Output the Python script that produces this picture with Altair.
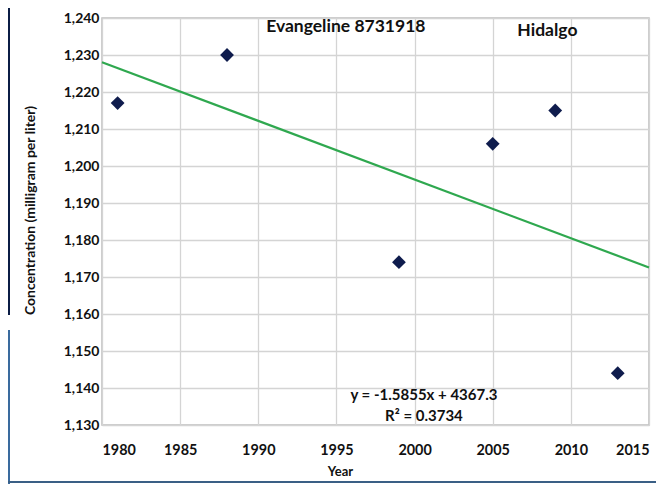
import altair as alt
import pandas as pd

years = [1981, 1988, 1999, 2005, 2009, 2013]
conc = [1217, 1230, 1174, 1206, 1215, 1144]

x_ticks = [1980, 1985, 1990, 1995, 2000, 2005, 2010, 2015]
y_ticks = [1130, 1140, 1150, 1160, 1170, 1180, 1190, 1200, 1210, 1220, 1230, 1240]

ann_text = ["Evangeline 8731918", "Hidalgo"]
ann_year = [1995.6, 2008.5]
ann_conc = [1237.7, 1236.6]

eq_text = ["y = -1.5855x + 4367.3", "R² = 0.3734"]
eq_year = [2000.6, 2000.6]
eq_conc = [1138.2, 1132.3]

df = pd.DataFrame({"year": years, "conc": conc})
ann = pd.DataFrame({"t": ann_text, "year": ann_year, "conc": ann_conc})
eq = pd.DataFrame({"t": eq_text, "year": eq_year, "conc": eq_conc})

FONT = "Lato"

xs = alt.Scale(domain=[1980, 2015], nice=False, zero=False)
ys = alt.Scale(domain=[1130, 1240], nice=False, zero=False)

x_axis = alt.Axis(values=x_ticks, format="d", grid=True, ticks=False, domain=False,
                  labelPadding=18, labelFontSize=14.4, labelFontWeight="bold",
                  labelFont=FONT, labelColor="#111", labelOverlap=False,
                  titleFont=FONT, titleFontSize=13, titleFontWeight="bold",
                  titleColor="#111", titlePadding=9, titleX=238,
                  gridColor="#d4d4d4", gridWidth=1.3)
y_axis = alt.Axis(values=y_ticks, format=",.0f", grid=True, ticks=False, domain=False,
                  labelPadding=3, labelFontSize=14, labelFontWeight="bold",
                  labelFont=FONT, labelColor="#111", labelOverlap=False,
                  titleFont=FONT, titleFontSize=14, titleFontWeight="bold",
                  titleColor="#111", titlePadding=26, titleY=192,
                  gridColor="#d4d4d4", gridWidth=1.3)

def X():
    return alt.X("year:Q", scale=xs, title="Year", axis=x_axis)

def Y():
    return alt.Y("conc:Q", scale=ys, title="Concentration (milligram per liter)", axis=y_axis)

points = alt.Chart(df).mark_point(shape="diamond", filled=True, size=190, color="#0f1c4d", opacity=1).encode(
    x=X(), y=Y())

trend = alt.Chart(df).transform_regression("year", "conc", extent=[1980, 2015]).mark_line(
    color="#2fa84f", strokeWidth=2.2).encode(x=X(), y=Y())

annotations = alt.Chart(ann).mark_text(font=FONT, fontWeight="bold", fontSize=17.5, color="#111").encode(
    x=X(), y=Y(), text="t:N")

eqs = alt.Chart(eq).mark_text(font=FONT, fontWeight="bold", fontSize=15, color="#111").encode(
    x=X(), y=Y(), text="t:N")

one = pd.DataFrame({"a": [0]})
navy = alt.Chart(one).mark_rect(color="#0b1d45").encode(
    x=alt.value(-94), x2=alt.value(-92), y=alt.value(-10), y2=alt.value(297))
blue = alt.Chart(one).mark_rect(color="#3a6b9e").encode(
    x=alt.value(-94), x2=alt.value(-92), y=alt.value(312), y2=alt.value(470))
bottom_line = alt.Chart(one).mark_rule(color="#3a5f85", strokeWidth=2).encode(
    x=alt.value(-94), x2=alt.value(560), y=alt.value(464))

chart = alt.layer(navy, blue, bottom_line, trend, points, annotations, eqs).properties(
    width=547, height=407,
    autosize=alt.AutoSizeParams(type="none"),
    padding={"left": 94, "top": 10, "right": 7, "bottom": 60},
    background="white",
).configure_view(stroke="#bdbdbd", strokeWidth=1.5)

chart.save("out.html", embed_options={"renderer": "svg", "actions": False})
